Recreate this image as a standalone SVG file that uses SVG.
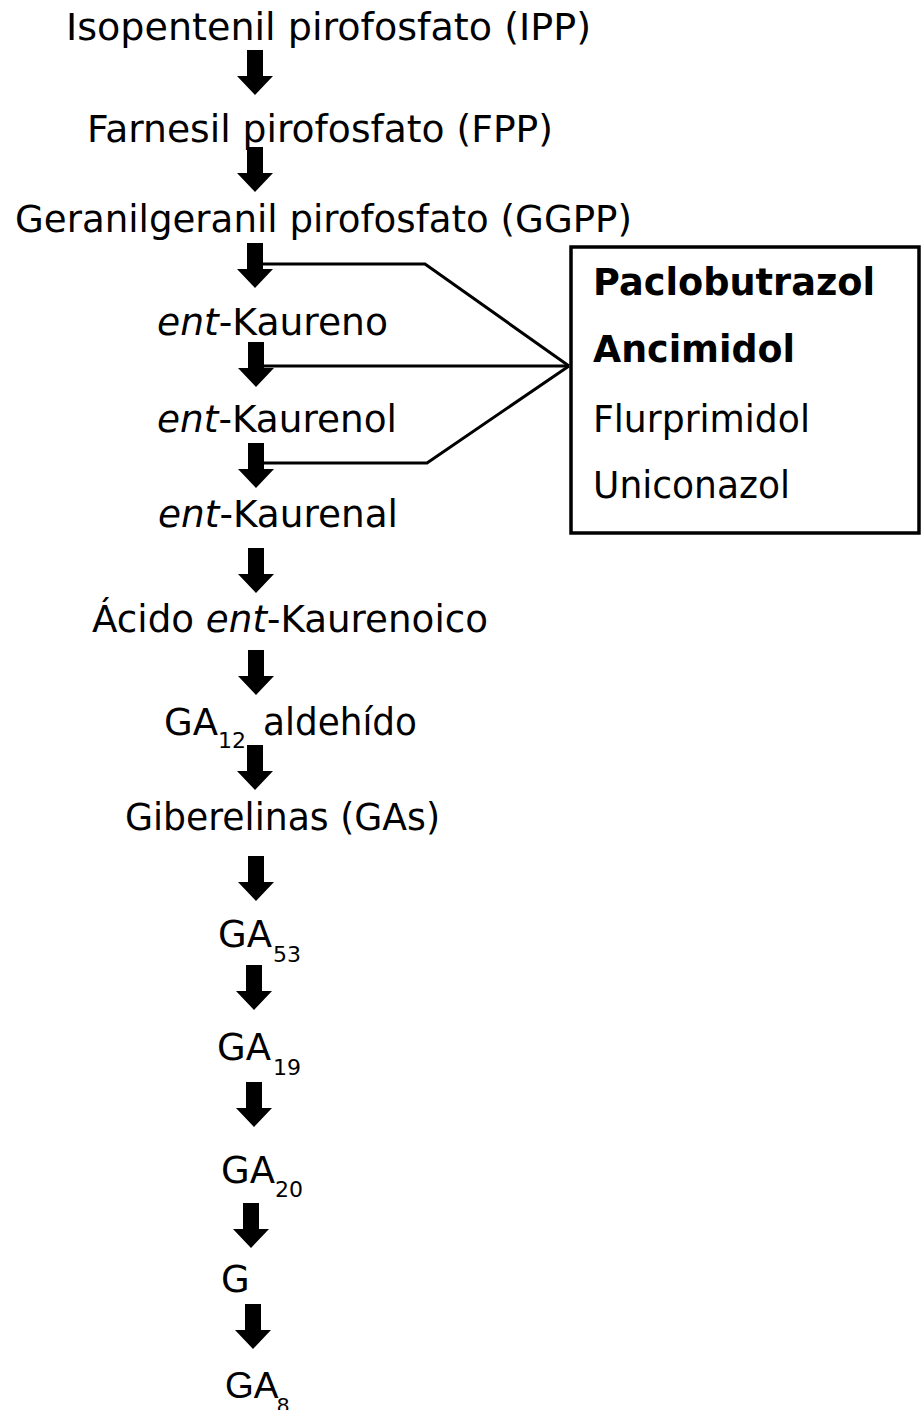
<svg xmlns="http://www.w3.org/2000/svg" xmlns:xlink="http://www.w3.org/1999/xlink" width="921" height="1410" viewBox="0 0 921 1410">
<style>
text{font-family:"DejaVu Sans","Verdana",sans-serif;font-size:37px;fill:#000}
.sub{font-size:22px}
.b{font-weight:bold}
.i{font-style:italic}
.ar{font-family:"Liberation Sans",Arial,sans-serif}
.con{fill:none;stroke:#000;stroke-width:3}
.box{fill:#fff;stroke:#000;stroke-width:3.5}
</style>
<defs>
<path id="arr" d="M-8,0 H8 V26 H18 L0,45 L-18,26 H-8 Z" fill="#000"/>
</defs>
<rect width="921" height="1410" fill="#fff"/>
<g id="connectors">
<polyline class="con" points="263,264 425,264 569,366"/>
<line class="con" x1="264" y1="366" x2="569" y2="366"/>
<polyline class="con" points="263,463 427,463 569,366"/>
</g>
<g id="arrows">
<use href="#arr" x="255" y="50"/>
<use href="#arr" x="255" y="147"/>
<use href="#arr" x="255" y="243"/>
<use href="#arr" x="256" y="342"/>
<use href="#arr" x="256" y="443"/>
<use href="#arr" x="256" y="548"/>
<use href="#arr" x="256" y="650"/>
<use href="#arr" x="255" y="745"/>
<use href="#arr" x="256" y="856"/>
<use href="#arr" x="254" y="965"/>
<use href="#arr" x="254" y="1082"/>
<use href="#arr" x="251" y="1203"/>
<use href="#arr" x="253" y="1304"/>
</g>
<g id="ipp"><text x="66" y="40" textLength="525" lengthAdjust="spacingAndGlyphs">Isopentenil pirofosfato (IPP)</text></g>
<g id="fpp"><text x="87" y="142" textLength="466" lengthAdjust="spacingAndGlyphs">Farnesil pirofosfato (FPP)</text></g>
<g id="ggpp"><text x="15" y="232" textLength="617" lengthAdjust="spacingAndGlyphs">Geranilgeranil pirofosfato (GGPP)</text></g>
<g id="kaureno"><text x="157" y="335" textLength="231" lengthAdjust="spacingAndGlyphs"><tspan class="i">ent</tspan>-Kaureno</text></g>
<g id="kaurenol"><text x="157" y="432" textLength="240" lengthAdjust="spacingAndGlyphs"><tspan class="i">ent</tspan>-Kaurenol</text></g>
<g id="kaurenal"><text x="158" y="527" textLength="240" lengthAdjust="spacingAndGlyphs"><tspan class="i">ent</tspan>-Kaurenal</text></g>
<g id="acido"><text x="92" y="632" textLength="396" lengthAdjust="spacingAndGlyphs">Ácido <tspan class="i">ent</tspan>-Kaurenoico</text></g>
<g id="ga12"><text x="164" y="735">GA</text><text class="sub" x="218" y="748">12</text><text x="263" y="735" textLength="154" lengthAdjust="spacingAndGlyphs">aldehído</text></g>
<g id="gas"><text x="125" y="830" textLength="315" lengthAdjust="spacingAndGlyphs">Giberelinas (GAs)</text></g>
<g id="ga53"><text x="218" y="947">GA</text><text class="sub" x="273" y="962">53</text></g>
<g id="ga19"><text x="217" y="1060">GA</text><text class="sub" x="273" y="1075">19</text></g>
<g id="ga20"><text x="221" y="1183">GA</text><text class="sub" x="275" y="1197">20</text></g>
<g id="g"><text x="221" y="1292">G</text></g>
<g id="ga8"><text class="ar" x="225" y="1398">GA</text><text class="ar sub" x="277" y="1413">8</text></g>
<g id="inhibitors">
<rect class="box" x="571" y="247" width="348" height="286"/>
<text class="b" x="593" y="295" textLength="282" lengthAdjust="spacingAndGlyphs">Paclobutrazol</text>
<text class="b" x="593" y="362" textLength="202" lengthAdjust="spacingAndGlyphs">Ancimidol</text>
<text x="593" y="432" textLength="217" lengthAdjust="spacingAndGlyphs">Flurprimidol</text>
<text x="593" y="498" textLength="197" lengthAdjust="spacingAndGlyphs">Uniconazol</text>
</g>
</svg>
